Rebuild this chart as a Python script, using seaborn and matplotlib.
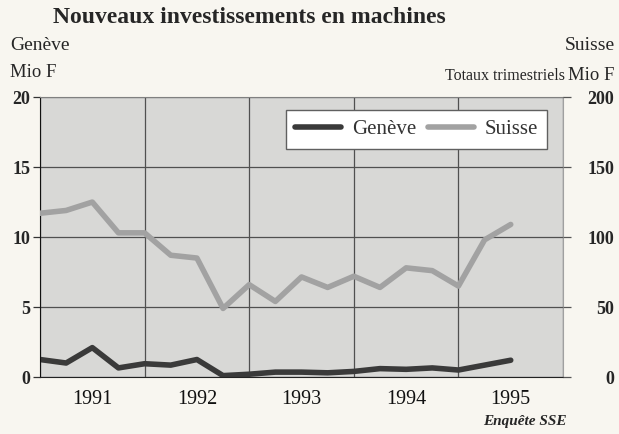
import pandas as pd
import matplotlib.pyplot as plt
import seaborn as sns

# quarterly totals, 1991 Q1 .. 1995 Q3
years = ["1991", "1992", "1993", "1994", "1995"]
geneve = [1.25, 1.0, 2.1, 0.65, 0.95, 0.85, 1.25, 0.1, 0.2, 0.35, 0.35, 0.3,
          0.4, 0.6, 0.55, 0.65, 0.5, 0.85, 1.2]
suisse = [117, 119, 125, 103, 103, 87, 85, 49, 66, 54, 71.5, 64,
          72, 64, 78, 76, 65, 98, 109]

df = pd.DataFrame({"q": range(len(geneve)), "Genève": geneve, "Suisse": suisse})

sns.set_style("white")
plt.rcParams["font.family"] = ["Liberation Serif", "DejaVu Serif"]

fig = plt.figure(figsize=(6.19, 4.34), dpi=100, facecolor="#f8f6f0")
ax = fig.add_axes([0.0646, 0.1313, 0.845, 0.645])
ax.set_facecolor("#d8d8d6")
ax2 = ax.twinx()

sns.lineplot(data=df, x="q", y="Genève", ax=ax, color="#3a3a3a", lw=4,
             label="Genève", legend=False)
sns.lineplot(data=df, x="q", y="Suisse", ax=ax2, color="#a2a2a2", lw=4,
             label="Suisse", legend=False)

ax.set_xlim(0, 20)
ax.set_ylim(0, 20)
ax2.set_ylim(0, 200)
ax.set_yticks([0, 5, 10, 15, 20])
ax2.set_yticks([0, 50, 100, 150, 200])
ax.set_xticks([0, 4, 8, 12, 16, 20])
ax.set_xticklabels([])
ax.set_xticks(range(21), minor=True)
ax.tick_params(axis="x", which="major", direction="out", length=6, width=0.9, color="#333333")
ax.tick_params(axis="x", which="minor", direction="in", length=5, width=0.9, color="#333333")
ax.tick_params(axis="y", direction="out", length=5, width=0.9, color="#333333", pad=2,
               labelsize=13)
ax2.tick_params(axis="y", direction="out", length=6, width=0.9, color="#555555", pad=31,
                labelsize=13)
for lab in ax.get_yticklabels() + ax2.get_yticklabels():
    lab.set_fontweight("bold")
for lab in ax2.get_yticklabels():
    lab.set_ha("right")
ax.set_xlabel("")
ax.set_ylabel("")
ax2.set_ylabel("")
ax.grid(True, which="major", color="#505050", lw=0.9)
ax.set_axisbelow(True)

for i, y in enumerate(years):
    ax.text(4 * i + 2, -0.9, y, ha="center", va="top", fontsize=14.5, color="#111111")

ax.spines["left"].set_color("#111111")
ax.spines["bottom"].set_color("#222222")
ax.spines["top"].set_color("#808080")
ax.spines["right"].set_color("#a0a0a0")
for s in ax2.spines.values():
    s.set_visible(False)

h1, l1 = ax.get_legend_handles_labels()
h2, l2 = ax2.get_legend_handles_labels()
leg = ax2.legend(h1 + h2, l1 + l2, ncol=2, loc="upper right", bbox_to_anchor=(0.99, 0.99),
                 fontsize=15, frameon=True, fancybox=False, handlelength=2.2,
                 columnspacing=0.6, handletextpad=0.5, borderpad=0.45)
leg.get_frame().set_edgecolor("#606060")
leg.get_frame().set_facecolor("white")
leg.get_frame().set_alpha(1)
for t in leg.get_texts():
    t.set_color("#333333")

fig.text(0.086, 0.96, "Nouveaux investissements en machines", fontsize=17,
         fontweight="bold", va="center")
fig.text(0.016, 0.895, "Genève", fontsize=14, va="center")
fig.text(0.016, 0.832, "Mio F", fontsize=13.5, va="center")
fig.text(0.993, 0.895, "Suisse", fontsize=14, va="center", ha="right")
fig.text(0.993, 0.827, "Mio F", fontsize=13.5, va="center", ha="right")
fig.text(0.913, 0.825, "Totaux trimestriels", fontsize=11.5, va="center", ha="right")
fig.text(0.915, 0.028, "Enquête SSE", fontsize=11, va="center", ha="right",
         style="italic", fontweight="bold")

fig.savefig("out.png", dpi=100, facecolor=fig.get_facecolor())
